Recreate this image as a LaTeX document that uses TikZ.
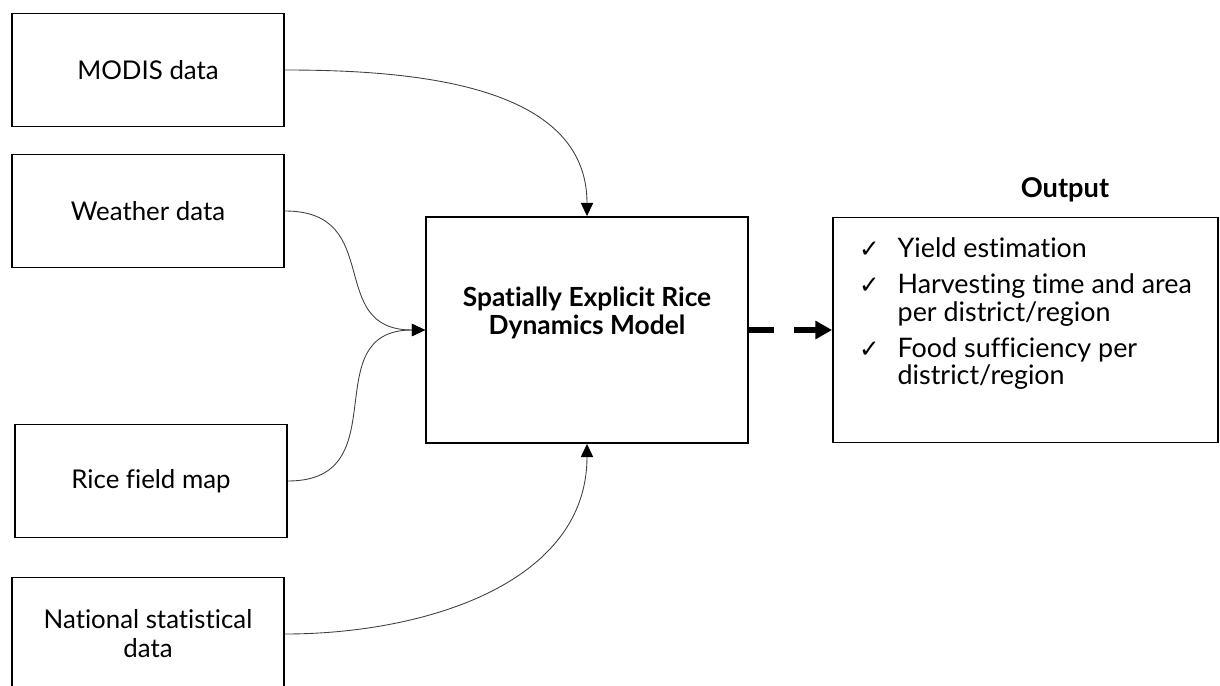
\documentclass[tikz,border=0pt]{standalone}
\usepackage{fontspec}
\setmainfont{Lato}[Ligatures=NoCommon]
\newfontfamily\checkfont{DejaVu Sans}
\usetikzlibrary{arrows.meta}

\newcommand{\tick}{{\checkfont\fontsize{14}{14}\selectfont ✓}}

\begin{document}
\begin{tikzpicture}[x=0.02cm, y=-0.02cm,
    databox/.style={draw, line width=1.1pt, minimum width=5.44cm, minimum height=2.26cm,
      align=center, inner sep=0pt, font=\fontsize{14.7}{16.5}\selectfont},
    feed/.style={-{Triangle[length=7.5pt, width=7pt, color=black]}, line width=0.5pt, black!75}]
    \useasboundingbox (0,0) rectangle (1220,686);
    % Fontes de dados
    \node[databox] (modis) at (148,70) {MODIS data};
    \node[databox] (weather) at (148,211) {Weather data};
    \node[databox] (ricemap) at (151,481) {Rice field map};
    \node[databox] (national) at (148,634) {National statistical\\data};
    % Modelo
    \node[draw, line width=1.1pt, minimum width=6.44cm, minimum height=4.52cm, inner sep=0pt,
      font=\fontsize{15}{15.5}\selectfont\bfseries] (model) at (587,330)
      {\begin{tabular}{@{}c@{}}Spatially Explicit Rice\\Dynamics Model\\[0.62cm]\end{tabular}};
    % Saida
    \node[draw, line width=1.1pt, minimum width=7.7cm, minimum height=4.5cm, inner sep=0pt,
      font=\fontsize{15.3}{14.8}\selectfont] (outbox) at (1025.5,330)
      {\begin{tabular}{@{}l@{\hspace{0.36cm}}l@{}}
        \tick & Yield estimation\\[5pt]
        \tick & Harvesting time and area\\
              & per district/region\\[5pt]
        \tick & Food sufficiency per\\
              & district/region\\[0.6cm]
      \end{tabular}};
    \node[font=\fontsize{15.5}{16}\selectfont\bfseries] (outlabel) at (1065,190) {Output};
    % Conexoes
    \draw[feed] (modis.east) to[out=0, in=90] (model.north);
    \draw[feed] (weather.east) to[out=0, in=180, looseness=1.4] (model.west);
    \draw[feed] (ricemap.east) to[out=0, in=180, looseness=1.4] (model.west);
    \draw[feed] (national.east) to[out=0, in=-90] (model.south);
    \draw[-{Triangle[length=9.5pt, width=10pt]}, line width=3.4pt, dash pattern=on 0.5cm off 0.4cm]
      (model.east) -- (outbox.west);
\end{tikzpicture}
\end{document}
